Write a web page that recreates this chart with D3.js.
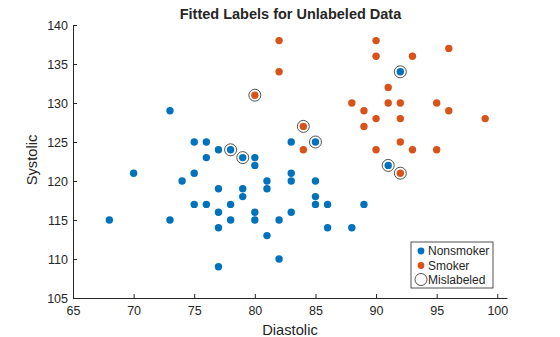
<!DOCTYPE html>
<html>
<head>
<meta charset="utf-8">
<script src="https://cdn.jsdelivr.net/npm/d3@7"></script>
<style>
  body { margin: 0; background: #fff; }
  svg text { font-family: "Liberation Sans", Arial, sans-serif; fill: #262626; }
</style>
</head>
<body>
<div id="chart"></div>
<script>
// nonsmoker points (diastolic, systolic)
var nonsmokerDia = [73, 75, 76, 83, 77, 78, 76, 79, 80, 80, 70, 75, 83, 74, 81, 83, 77, 79, 81, 79, 75, 76, 78, 77, 80, 83,
                    68, 73, 78, 80, 82, 77, 81, 82, 77, 85, 85, 85, 86, 89, 86, 88, 85, 92, 91];
var nonsmokerSys = [129, 125, 125, 125, 124, 124, 123, 123, 123, 122, 121, 121, 121, 120, 120, 120, 119, 119, 119, 118, 117, 117, 117, 116, 116, 116,
                    115, 115, 115, 115, 115, 114, 113, 110, 109, 120, 118, 117, 117, 117, 114, 114, 125, 134, 122];
// smoker points
var smokerDia = [82, 82, 80, 84, 84, 90, 96, 90, 93, 91, 88, 91, 92, 95, 89, 96, 90, 92, 99, 89, 92, 90, 93, 95, 92];
var smokerSys = [138, 134, 131, 127, 124, 138, 137, 136, 136, 132, 130, 130, 130, 130, 129, 129, 128, 128, 128, 127, 125, 124, 124, 124, 121];
// mislabeled points
var misDia = [80, 84, 78, 79, 85, 92, 91, 92];
var misSys = [131, 127, 124, 123, 125, 134, 122, 121];

var legendLabels = ["Nonsmoker", "Smoker", "Mislabeled"];
var xTicks = [65, 70, 75, 80, 85, 90, 95, 100];
var yTicks = [105, 110, 115, 120, 125, 130, 135, 140];

var width = 560, height = 337;
var blue = "#0072BD", orange = "#D95319";

var svg = d3.select("#chart").append("svg")
    .attr("width", width)
    .attr("height", height);

var x = d3.scaleLinear().domain([65, 100.8]).range([73, 507]);
var y = d3.scaleLinear().domain([105, 140]).range([298, 25]);

// axes, ticks point inward like matlab
var xAxis = svg.append("g")
    .attr("transform", "translate(0,298)")
    .call(d3.axisBottom(x).tickValues(xTicks).tickSizeInner(-4).tickSizeOuter(0).tickPadding(8));
var yAxis = svg.append("g")
    .attr("transform", "translate(73,0)")
    .call(d3.axisLeft(y).tickValues(yTicks).tickSizeInner(-4).tickSizeOuter(0).tickPadding(5));

[xAxis, yAxis].forEach(function(a) {
  a.selectAll("path").attr("stroke", "#262626");
  a.selectAll("line").attr("stroke", "#262626");
  a.selectAll("text").style("font-size", "12.5px").attr("fill", "#262626");
});

// points
var nonsmoker = nonsmokerDia.map(function(d, i) { return {x: d, y: nonsmokerSys[i]}; });
var smoker = smokerDia.map(function(d, i) { return {x: d, y: smokerSys[i]}; });
var mis = misDia.map(function(d, i) { return {x: d, y: misSys[i]}; });

svg.append("g").selectAll("circle")
  .data(nonsmoker).enter().append("circle")
    .attr("cx", function(d) { return x(d.x); })
    .attr("cy", function(d) { return y(d.y); })
    .attr("r", 3.7)
    .style("fill", blue);

svg.append("g").selectAll("circle")
  .data(smoker).enter().append("circle")
    .attr("cx", function(d) { return x(d.x); })
    .attr("cy", function(d) { return y(d.y); })
    .attr("r", 3.7)
    .style("fill", orange);

svg.append("g").selectAll("circle")
  .data(mis).enter().append("circle")
    .attr("cx", function(d) { return x(d.x); })
    .attr("cy", function(d) { return y(d.y); })
    .attr("r", 6)
    .style("fill", "none")
    .style("stroke", "#262626")
    .style("stroke-width", 0.8);

// title and labels
svg.append("text").attr("x", 290.5).attr("y", 19).attr("text-anchor", "middle")
    .style("font-size", "14.5px").style("font-weight", "bold").text("Fitted Labels for Unlabeled Data");
svg.append("text").attr("x", 290).attr("y", 335).attr("text-anchor", "middle")
    .style("font-size", "14.7px").text("Diastolic");
svg.append("text").attr("transform", "translate(37,160) rotate(-90)").attr("text-anchor", "middle")
    .style("font-size", "14.7px").text("Systolic");

// legend
var lg = svg.append("g").attr("transform", "translate(411,242)");
lg.append("rect").attr("width", 82).attr("height", 46)
    .style("fill", "#fff").style("stroke", "#262626").style("stroke-width", 0.8);
lg.append("circle").attr("cx", 10).attr("cy", 9).attr("r", 3.4).style("fill", blue);
lg.append("circle").attr("cx", 10).attr("cy", 23.5).attr("r", 3.4).style("fill", orange);
lg.append("circle").attr("cx", 10).attr("cy", 37.5).attr("r", 6).style("fill", "none").style("stroke", "#262626").style("stroke-width", 0.8);
legendLabels.forEach(function(t, i) {
  lg.append("text").attr("x", 17).attr("y", 9 + i * 14.3).attr("dy", "0.35em")
    .style("font-size", "12px").text(t);
});
</script>
</body>
</html>
